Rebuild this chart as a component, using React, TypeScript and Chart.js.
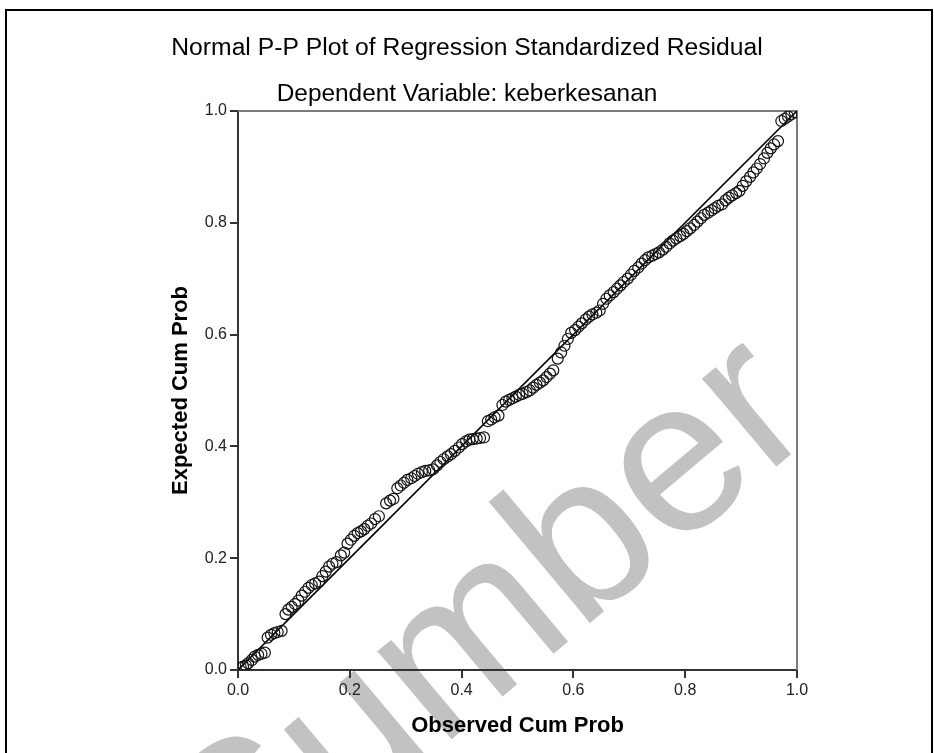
import React, { useEffect, useRef } from 'react';
import { Chart, registerables } from 'chart.js';

Chart.register(...registerables);

const TITLE = 'Normal P-P Plot of Regression Standardized Residual';
const SUBTITLE = 'Dependent Variable: keberkesanan';
const X_TITLE = 'Observed Cum Prob';
const Y_TITLE = 'Expected Cum Prob';
const WATERMARK = 'Sumber';

const observedCumProb = [
  0.005, 0.009, 0.014, 0.018,
  0.025, 0.03, 0.036, 0.042, 0.048,
  0.053, 0.059, 0.065, 0.071, 0.078,
  0.085, 0.09, 0.096, 0.102, 0.108,
  0.114, 0.12, 0.126, 0.132, 0.138, 0.145,
  0.151, 0.157, 0.163, 0.169, 0.176, 0.184,
  0.19, 0.196, 0.202, 0.208, 0.214, 0.22, 0.226, 0.232, 0.238, 0.245, 0.252,
  0.265, 0.272, 0.278,
  0.285, 0.291, 0.297, 0.303, 0.31, 0.316,
  0.322, 0.329, 0.335, 0.342, 0.349,
  0.356, 0.362, 0.368, 0.375, 0.381, 0.388,
  0.395, 0.401, 0.408, 0.414, 0.42, 0.427, 0.433, 0.44,
  0.447, 0.453, 0.459, 0.466,
  0.473, 0.479, 0.485, 0.491, 0.497, 0.503, 0.509, 0.516, 0.522,
  0.528, 0.534, 0.54, 0.546, 0.552, 0.558, 0.564,
  0.572, 0.578, 0.584, 0.59, 0.596,
  0.603, 0.609, 0.615, 0.622, 0.628, 0.634, 0.641, 0.647,
  0.653, 0.659, 0.665, 0.672, 0.678, 0.684,
  0.69, 0.697, 0.703, 0.709, 0.716, 0.722, 0.728,
  0.734, 0.741, 0.747, 0.753, 0.76, 0.766, 0.772, 0.778, 0.784, 0.791,
  0.797, 0.803, 0.809, 0.816, 0.822, 0.828, 0.834, 0.841, 0.847, 0.853, 0.859, 0.866,
  0.872, 0.878, 0.884, 0.891, 0.897,
  0.903, 0.909, 0.916, 0.922, 0.928,
  0.934, 0.941, 0.947, 0.953, 0.959, 0.966,
  0.972, 0.978, 0.984, 0.99, 0.996,
];

const expectedCumProb = [
  0.004, 0.006, 0.008, 0.012,
  0.018, 0.024, 0.027, 0.029, 0.031,
  0.058, 0.063, 0.066, 0.068, 0.07,
  0.1, 0.108, 0.113, 0.118, 0.124,
  0.133, 0.14, 0.147, 0.152, 0.155, 0.158,
  0.168, 0.176, 0.185, 0.19, 0.193, 0.205,
  0.21, 0.226, 0.233, 0.24, 0.245, 0.248, 0.252, 0.258, 0.262, 0.27, 0.275,
  0.298, 0.303, 0.306,
  0.325, 0.33, 0.335, 0.34, 0.343, 0.347,
  0.351, 0.354, 0.356, 0.357, 0.359,
  0.366, 0.372, 0.377, 0.382, 0.386, 0.392,
  0.398, 0.404, 0.409, 0.412, 0.413, 0.414, 0.415, 0.416,
  0.445, 0.448, 0.452, 0.455,
  0.474, 0.48, 0.483, 0.486, 0.489, 0.492, 0.494, 0.497, 0.5,
  0.505, 0.51, 0.514, 0.518, 0.524, 0.53, 0.536,
  0.557, 0.568, 0.58, 0.592, 0.603,
  0.608, 0.614, 0.62, 0.627, 0.632, 0.636, 0.639, 0.643,
  0.655, 0.664, 0.67, 0.676, 0.682, 0.688,
  0.694, 0.7, 0.707, 0.714, 0.72, 0.727, 0.733,
  0.738, 0.741, 0.744, 0.747, 0.752, 0.757, 0.763, 0.768, 0.772, 0.776,
  0.78, 0.785, 0.79, 0.796, 0.802, 0.808, 0.814, 0.818, 0.822, 0.826, 0.83, 0.833,
  0.84, 0.845, 0.849, 0.853, 0.857,
  0.866, 0.874, 0.882, 0.89, 0.897,
  0.905, 0.915, 0.925, 0.933, 0.94, 0.946,
  0.982, 0.986, 0.99, 0.994, 0.998,
];

const refLineX = [0, 1];
const refLineY = [0, 1];
const axisMin = 0;
const axisMax = 1;
const tickStep = 0.2;

const W = 934;
const H = 753;
const FONT = '"Liberation Sans", Arial, sans-serif';

const decorPlugin = {
  id: 'decor',
  beforeDraw(chart: any) {
    const ctx = chart.ctx;
    ctx.save();
    ctx.translate(528, 675);
    ctx.rotate((-40 * Math.PI) / 180);
    ctx.font = '218px ' + FONT;
    ctx.fillStyle = '#c2c2c2';
    ctx.textAlign = 'center';
    ctx.textBaseline = 'alphabetic';
    ctx.fillText(WATERMARK, 0, 0);
    ctx.restore();

    ctx.save();
    ctx.strokeStyle = '#000';
    ctx.lineWidth = 2;
    ctx.beginPath();
    ctx.moveTo(6, H);
    ctx.lineTo(6, 10);
    ctx.lineTo(932, 10);
    ctx.lineTo(932, H);
    ctx.stroke();
    ctx.restore();
  },
  beforeDatasetsDraw(chart: any) {
    const { ctx, chartArea } = chart;
    ctx.save();
    ctx.strokeStyle = '#7a7a7a';
    ctx.lineWidth = 2;
    ctx.beginPath();
    ctx.moveTo(chartArea.left, chartArea.top);
    ctx.lineTo(chartArea.right, chartArea.top);
    ctx.lineTo(chartArea.right, chartArea.bottom);
    ctx.stroke();
    ctx.restore();
  },
};

export default function App() {
  const ref = useRef<HTMLCanvasElement | null>(null);

  useEffect(() => {
    if (!ref.current) return;
    const points = observedCumProb.map((x, i) => ({ x, y: expectedCumProb[i] }));
    const line = refLineX.map((x, i) => ({ x, y: refLineY[i] }));
    const tickFont = { family: FONT, size: 16 };
    const chart = new Chart(ref.current, {
      type: 'scatter',
      data: {
        datasets: [
          {
            type: 'line',
            data: line,
            borderColor: '#000',
            borderWidth: 1.6,
            pointRadius: 0,
            fill: false,
            order: 2,
          } as any,
          {
            type: 'scatter',
            data: points,
            pointStyle: 'circle',
            pointRadius: 5.5,
            borderColor: '#111',
            borderWidth: 1.2,
            backgroundColor: 'rgba(0,0,0,0)',
            order: 1,
          },
        ],
      },
      options: {
        animation: false,
        responsive: false,
        devicePixelRatio: 1,
        layout: { padding: 0 },
        plugins: {
          legend: { display: false },
          tooltip: { enabled: false },
          title: {
            display: true,
            text: TITLE,
            color: '#000',
            font: { family: FONT, size: 24.7, weight: 'normal', lineHeight: 1.2 },
            padding: { top: 33.2, bottom: 0 },
          },
          subtitle: {
            display: true,
            text: SUBTITLE,
            color: '#000',
            font: { family: FONT, size: 24.4, weight: 'normal', lineHeight: 1.2 },
            padding: { top: 16.4, bottom: 2.4 },
          },
        },
        scales: {
          x: {
            type: 'linear',
            min: axisMin,
            max: axisMax,
            afterFit: (s: any) => { s.height = 83; },
            ticks: {
              stepSize: tickStep,
              color: '#222',
              font: tickFont,
              padding: 3,
              maxRotation: 0,
              callback: (v: any) => Number(v).toFixed(1),
            },
            grid: { drawOnChartArea: false, drawTicks: true, tickLength: 8, color: '#333', lineWidth: 2 },
            border: { display: true, color: '#333', width: 2 },
            title: {
              display: true,
              text: X_TITLE,
              color: '#000',
              font: { family: FONT, size: 22, weight: 'bold' },
              padding: { top: 0, bottom: 13.5 },
            },
          },
          y: {
            type: 'linear',
            min: axisMin,
            max: axisMax,
            afterFit: (s: any) => { s.width = 238; },
            ticks: {
              stepSize: tickStep,
              color: '#222',
              font: tickFont,
              padding: 3,
              callback: (v: any) => Number(v).toFixed(1),
            },
            grid: { drawOnChartArea: false, drawTicks: true, tickLength: 8, color: '#333', lineWidth: 2 },
            border: { display: true, color: '#333', width: 2 },
            title: {
              display: true,
              text: Y_TITLE,
              color: '#000',
              font: { family: FONT, size: 22, weight: 'bold' },
              padding: { top: 168, bottom: 0 },
            },
          },
          yRightSpace: {
            type: 'linear',
            position: 'right',
            display: true,
            min: axisMin,
            max: axisMax,
            afterFit: (s: any) => { s.width = 137; },
            ticks: { display: false },
            grid: { display: false },
            border: { display: false },
          },
        },
      },
      plugins: [decorPlugin],
    } as any);
    return () => chart.destroy();
  }, []);

  return (
    <div style={{ position: 'fixed', left: 0, top: 0, width: W, height: H, background: '#fff' }}>
      <canvas ref={ref} width={W} height={H} style={{ display: 'block', width: W, height: H }} />
    </div>
  );
}
